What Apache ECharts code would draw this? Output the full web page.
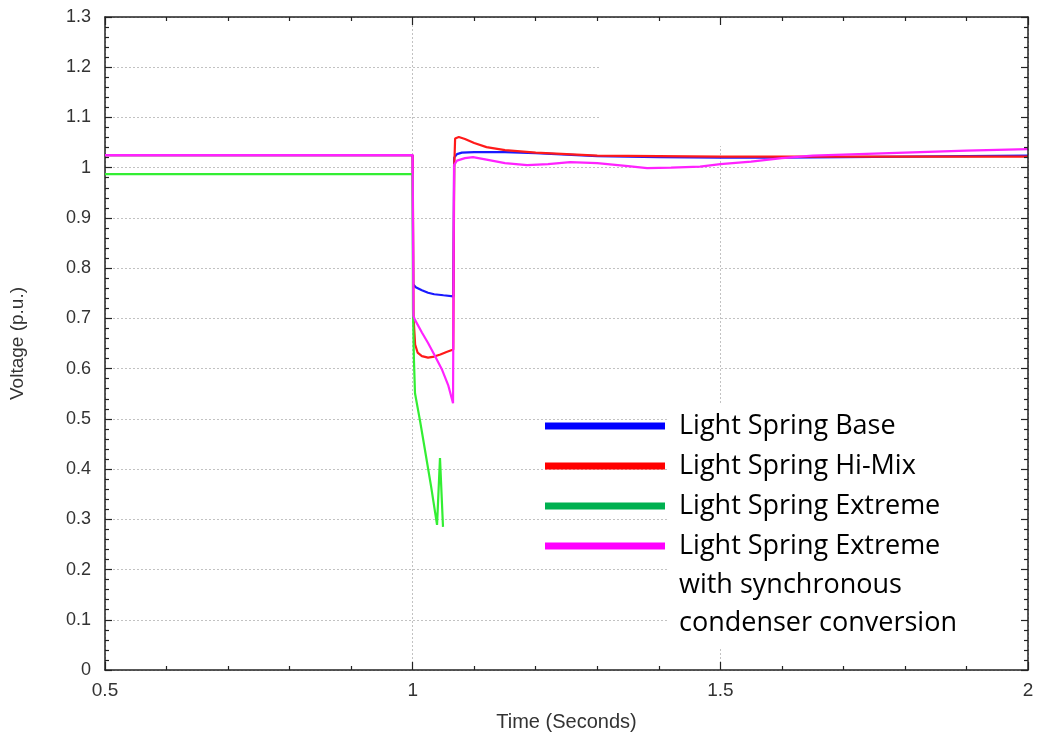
<!DOCTYPE html>
<html>
<head>
<meta charset="utf-8">
<script src="https://cdn.jsdelivr.net/npm/echarts@6/dist/echarts.min.js"></script>
<style>
html, body { margin: 0; padding: 0; background: #fff; }
#chart { width: 1038px; height: 736px; }
</style>
</head>
<body>
<div id="chart"></div>
<script>
(function () {

    // series names (legend text)
    var nameBase = 'Light Spring Base';
    var nameHiMix = 'Light Spring Hi-Mix';
    var nameExtreme = 'Light Spring Extreme';
    var nameSync = 'Light Spring Extreme\nwith synchronous\ncondenser conversion';

    // time (s) / voltage (p.u.)
    var tBase = [0.5, 1.0, 1.0008, 1.005, 1.015, 1.025, 1.035, 1.05, 1.066, 1.0675, 1.072, 1.08, 1.1, 1.15, 1.2, 1.25, 1.3, 1.4, 1.5, 1.6, 1.7, 1.8, 1.9, 2.0];
    var vBase = [1.025, 1.025, 0.768, 0.762, 0.756, 0.751, 0.748, 0.746, 0.744, 1.020, 1.027, 1.030, 1.031, 1.031, 1.029, 1.026, 1.023, 1.021, 1.020, 1.020, 1.021, 1.022, 1.023, 1.024];

    var tHiMix = [0.5, 1.0, 1.0015, 1.004, 1.008, 1.015, 1.025, 1.035, 1.045, 1.055, 1.066, 1.0675, 1.069, 1.075, 1.085, 1.1, 1.12, 1.15, 1.2, 1.25, 1.3, 1.4, 1.5, 1.6, 1.7, 1.8, 1.9, 2.0];
    var vHiMix = [1.025, 1.025, 0.700, 0.648, 0.632, 0.625, 0.622, 0.624, 0.628, 0.633, 0.638, 1.000, 1.058, 1.061, 1.057, 1.049, 1.041, 1.035, 1.030, 1.027, 1.024, 1.023, 1.022, 1.022, 1.022, 1.022, 1.022, 1.022];

    var tExtreme = [0.5, 1.0, 1.0005, 1.002, 1.0038, 1.012, 1.02, 1.03, 1.0396, 1.0444, 1.0493];
    var vExtreme = [0.987, 0.987, 0.720, 0.620, 0.551, 0.496, 0.438, 0.365, 0.289, 0.422, 0.285];

    var tSync = [0.5, 1.0, 1.0012, 1.0038, 1.015, 1.025, 1.035, 1.048, 1.058, 1.0656, 1.0672, 1.072, 1.085, 1.098, 1.12, 1.15, 1.186, 1.22, 1.256, 1.3, 1.35, 1.381, 1.42, 1.467, 1.5, 1.55, 1.6, 1.65, 1.7, 1.8, 1.9, 2.0];
    var vSync = [1.025, 1.025, 0.705, 0.697, 0.672, 0.651, 0.628, 0.597, 0.566, 0.531, 1.005, 1.014, 1.019, 1.021, 1.016, 1.009, 1.005, 1.007, 1.011, 1.009, 1.003, 0.999, 1.000, 1.002, 1.007, 1.012, 1.019, 1.024, 1.026, 1.030, 1.034, 1.037];

    function pairs(t, v) {
        var out = [];
        for (var i = 0; i < t.length; i++) {
            out.push([t[i], v[i]]);
        }
        return out;
    }

    var axisFont = '"Liberation Sans", Arial, sans-serif';
    var legendFont = '"Open Sans", sans-serif';
    var frameColor = '#222';
    var gridLine = { show: true, lineStyle: { color: '#c2c2c2', width: 1, type: [2, 2] } };

    // 边框轴 (bottom/left carry labels + grid, top/right only ticks)
    function xAx(pos, main) {
        return {
            type: 'value', position: pos, min: 0.5, max: 2, interval: 0.5,
            name: main ? 'Time (Seconds)' : '',
            nameLocation: 'middle', nameGap: 42,
            nameTextStyle: { fontFamily: axisFont, fontSize: 20, color: '#333' },
            axisLine: { show: true, onZero: false, lineStyle: { color: frameColor, width: 1.5 } },
            axisTick: { show: true, inside: true, length: 8, lineStyle: { color: frameColor, width: 1.2 } },
            minorTick: { show: true, splitNumber: 5, length: 4, lineStyle: { color: frameColor, width: 1.2 } },
            axisLabel: { show: main, fontFamily: axisFont, fontSize: 19, color: '#333', margin: 11 },
            splitLine: main ? gridLine : { show: false },
            z: main ? 0 : 3
        };
    }

    function yAx(pos, main) {
        return {
            type: 'value', position: pos, min: 0, max: 1.3, interval: 0.1,
            name: main ? 'Voltage (p.u.)' : '',
            nameLocation: 'middle', nameGap: 78,
            nameTextStyle: { fontFamily: axisFont, fontSize: 19, color: '#333' },
            axisLine: { show: true, onZero: false, lineStyle: { color: frameColor, width: 1.5 } },
            axisTick: { show: true, inside: true, length: 7, lineStyle: { color: frameColor, width: 1.2 } },
            minorTick: { show: true, splitNumber: 5, length: 4, lineStyle: { color: frameColor, width: 1.2 } },
            axisLabel: { show: main, fontFamily: axisFont, fontSize: 18, color: '#333', margin: 14 },
            splitLine: main ? gridLine : { show: false },
            z: main ? 0 : 3
        };
    }

    function line(name, color, t, v) {
        return {
            name: name, type: 'line', xAxisIndex: 0, yAxisIndex: 0,
            data: pairs(t, v), showSymbol: false, symbol: 'none',
            lineStyle: { color: color, width: 2.2 },
            itemStyle: { color: color },
            animation: false, z: 2
        };
    }

    var myChart = echarts.init(document.getElementById('chart'));

    var option = {
        backgroundColor: '#fff',
        animation: false,
        grid: { left: 105, right: 10, top: 17, bottom: 66, containLabel: false, outerBoundsMode: 'none' },
        xAxis: [xAx('bottom', true), xAx('top', false)],
        yAxis: [yAx('left', true), yAx('right', false)],
        graphic: [
            // white patches of the original slide that hide parts of the grid
            { type: 'rect', z: 1, silent: true, shape: { x: 600, y: 22, width: 427, height: 124 }, style: { fill: '#fff' } },
            { type: 'rect', z: 1, silent: true, shape: { x: 668, y: 404, width: 359, height: 244 }, style: { fill: '#fff' } },
            // rest of the last legend entry
            {
                type: 'text', z: 5, silent: true, x: 679, y: 566,
                style: {
                    text: nameSync.split('\n').slice(1).join('\n'),
                    font: '27px ' + legendFont, fill: '#000',
                    lineHeight: 38, verticalAlign: 'top', align: 'left'
                }
            }
        ],
        legend: {
            orient: 'vertical', left: 545, top: 407, padding: 0, itemGap: 2,
            itemWidth: 120, itemHeight: 7, icon: 'rect', selectedMode: false,
            formatter: function (name) { return name.split('\n')[0]; },
            textStyle: { fontFamily: legendFont, fontSize: 27, color: '#000', lineHeight: 38, padding: [0, 0, 0, 9] },
            data: [
                { name: nameBase, itemStyle: { color: '#0000ff' } },
                { name: nameHiMix, itemStyle: { color: '#ff0000' } },
                { name: nameExtreme, itemStyle: { color: '#00b050' } },
                { name: nameSync, itemStyle: { color: '#ff00ff' } }
            ]
        },
        series: [
            line(nameBase, '#1a1aff', tBase, vBase),
            line(nameHiMix, '#ff1a1a', tHiMix, vHiMix),
            line(nameExtreme, '#33ee33', tExtreme, vExtreme),
            line(nameSync, '#ff22ff', tSync, vSync)
        ]
    };

    myChart.setOption(option);

})();
</script>
</body>
</html>
